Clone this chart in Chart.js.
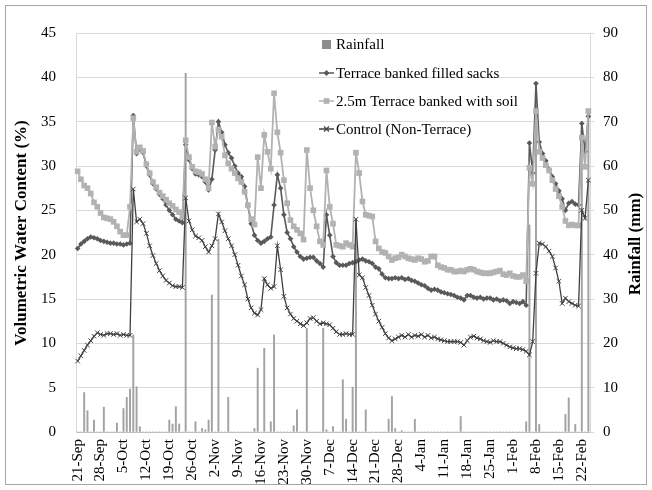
<!DOCTYPE html>
<html><head><meta charset="utf-8">
<script src="https://cdn.jsdelivr.net/npm/chart.js@4.4.1/dist/chart.umd.min.js"></script>
<style>
html,body{margin:0;padding:0;background:#fff;}
#wrap{position:relative;width:652px;height:490px;}
#frame{position:absolute;left:5px;top:5px;width:642px;height:480px;border:1px solid #a6a6a6;box-sizing:border-box;pointer-events:none}
canvas{position:absolute;left:0;top:0}
</style></head>
<body><div id="wrap"><canvas id="c" width="652" height="490"></canvas><div id="frame"></div></div>
<script>
// ---- data (daily, 21-Sep to 24-Feb) ----
const startDay = 21, startMonth = 8; // 21-Sep
const dayCount = 157;
const monthNames = ['Jan','Feb','Mar','Apr','May','Jun','Jul','Aug','Sep','Oct','Nov','Dec'];
const categories = [];
(function(){ const d = new Date(2013, startMonth, startDay);
  for (let i = 0; i < dayCount; i++) { categories.push(d.getDate() + '-' + monthNames[d.getMonth()]); d.setDate(d.getDate() + 1); } })();
const tickEvery = 7; // a label each week: 21-Sep, 28-Sep, ... 22-Feb

const rainfall = [
 0,0,8.9,4.8,0,2.7,0,0,5.6,0,
 0,0,2.0,0,5.3,7.8,9.7,21.9,10.2,1.2,
 0,0,0,0,0,0,0,0,2.7,1.8,
 5.7,1.8,0,80.9,0,0,2.3,0,0.8,0.5,
 2.7,30.9,0,43.5,0,0,7.8,0,0,0,
 0,0,0,0,0.8,14.4,0,18.9,0,2.3,
 21.9,0,0,0,0,0,1.4,5.0,0,0,
 23.4,0,0,0,0,23.4,0.5,0,1.2,0,
 0,11.8,2.9,0,10.1,48.0,0,0,5.0,0,
 0,0,0,0,0,2.9,8.0,0.8,0,0.3,
 0,0,0,2.9,0,0,0,0,0,0,
 0,0,0,0,0,0,0,3.5,0,0,
 0,0,0,0,0,0,0,0,0,0,
 0,0,0,0,0,0,0,2.3,46.7,0,
 78.7,1.7,0,0,0,0,0,0,0,4.0,
 7.7,0,1.7,0,69.6,0,72.4
];
const sacks = [
 20.7,21.2,21.5,21.8,22.0,21.9,21.8,21.6,21.5,21.4,
 21.3,21.3,21.2,21.2,21.1,21.2,21.3,35.7,31.4,31.9,
 31.5,30.0,29.0,28.0,27.4,26.8,26.3,25.6,25.0,24.5,
 24.0,23.8,23.6,32.4,30.7,29.7,29.1,29.0,28.8,28.2,
 27.3,28.5,31.8,35.0,33.8,32.4,31.5,30.9,30.0,29.2,
 28.8,27.7,25.5,23.5,22.2,21.6,21.3,21.5,21.8,22.0,
 25.6,29.0,27.5,24.5,22.5,21.8,20.9,20.3,19.8,19.5,
 19.6,19.7,19.7,19.3,19.0,18.6,24.5,22.2,19.8,19.1,
 18.8,18.8,18.8,19.0,19.1,19.2,19.4,19.5,19.3,19.2,
 19.0,18.6,18.4,17.8,17.4,17.3,17.3,17.4,17.3,17.4,
 17.2,17.3,17.1,17.0,16.8,16.6,16.5,16.2,16.0,16.1,
 16.0,15.8,15.7,15.6,15.5,15.4,15.2,15.1,14.9,15.4,
 15.4,15.2,15.1,15.2,15.0,15.1,15.1,14.9,15.0,14.8,
 14.9,14.8,14.5,14.7,14.6,14.5,14.7,14.3,32.6,29.2,
 39.3,32.7,31.4,30.6,29.6,28.8,28.0,27.2,26.3,25.0,
 25.8,26.0,25.7,25.6,34.8,31.6,35.6
];
const soil = [
 29.4,28.5,27.8,27.5,26.9,25.9,25.4,24.7,24.2,24.1,
 24.0,23.7,23.2,22.6,22.2,22.2,25.4,35.4,31.6,32.1,
 31.7,30.2,29.2,28.2,27.6,27.0,26.6,26.2,25.8,25.5,
 25.1,24.8,24.3,32.9,31.0,29.9,29.4,29.3,29.1,28.5,
 27.5,34.9,32.2,34.1,33.3,31.2,30.3,29.7,29.2,28.6,
 28.2,27.1,25.6,24.0,23.4,31.0,27.5,33.5,31.6,29.7,
 38.2,33.8,31.5,28.4,25.8,23.9,23.2,22.8,22.4,21.7,
 31.8,27.5,25.0,23.2,21.5,21.1,29.5,25.4,23.5,21.1,
 21.0,20.9,21.3,21.1,20.9,31.5,29.2,26.0,24.5,24.4,
 24.3,21.5,20.7,20.3,20.2,19.8,19.4,19.6,19.7,20.0,
 19.8,19.6,19.5,19.4,19.6,19.5,19.2,19.3,19.8,19.8,
 18.8,18.6,18.5,18.3,18.3,18.1,18.1,18.2,18.1,18.3,
 18.4,18.3,18.1,18.0,17.9,17.9,17.9,18.0,18.1,18.2,
 17.8,17.7,17.9,17.6,17.5,17.5,17.7,17.0,29.8,28.0,
 36.2,31.6,30.9,30.1,29.5,28.4,27.4,26.6,25.4,23.8,
 23.3,23.4,23.3,23.3,33.2,29.9,36.2
];
const control = [
 8.0,8.6,9.2,9.8,10.3,10.8,11.2,11.0,10.9,11.1,
 11.1,11.0,11.1,10.9,11.0,10.9,10.9,27.4,23.7,24.0,
 23.5,22.4,21.0,19.9,19.0,18.2,17.6,17.1,16.8,16.5,
 16.4,16.4,16.3,26.4,23.8,22.8,22.1,21.9,21.6,20.9,
 20.3,21.0,21.8,24.6,23.7,22.7,21.8,21.0,20.0,18.8,
 17.6,16.6,15.0,14.0,13.4,13.2,13.8,17.3,16.6,16.2,
 16.4,21.0,18.3,15.3,14.0,13.3,12.8,12.5,12.2,12.0,
 12.3,12.8,12.9,12.5,12.2,12.3,12.2,12.1,11.7,11.3,
 11.0,11.0,11.1,11.0,11.0,24.0,17.7,17.4,16.3,15.4,
 14.3,13.3,12.5,11.8,11.1,10.6,10.3,10.5,10.7,10.9,
 10.7,11.0,10.7,10.9,10.8,11.0,10.7,10.9,10.6,10.7,
 10.5,10.4,10.3,10.2,10.2,10.2,10.2,10.1,9.8,10.3,
 10.7,10.8,10.6,10.5,10.3,10.2,10.1,10.3,10.2,10.2,
 10.0,9.8,9.6,9.5,9.4,9.4,9.3,9.1,8.7,10.2,
 17.9,21.3,21.2,20.9,20.4,19.8,18.5,17.0,14.5,15.1,
 14.7,14.5,14.3,14.2,25.0,24.1,28.4
];
const seriesNames = ['Rainfall','Terrace banked filled sacks','2.5m Terrace banked with soil','Control (Non-Terrace)'];
const leftTicks = {min:0, max:45, step:5};
const rightTicks = {min:0, max:90, step:10};

// ---- styles ----
const FONT = 'Liberation Serif';
const C_RAIN = '#a3a3a3', C_SACK = '#595959', C_SOIL = '#b2b2b2', C_CTRL = '#404040';

function drawMarker(ctx, style, x, y, r, color) {
  ctx.save(); ctx.fillStyle = color; ctx.strokeStyle = color; ctx.lineWidth = 1.2;
  ctx.beginPath();
  if (style === 'rect') { const s = r * Math.SQRT1_2; ctx.rect(x - s, y - s, 2*s, 2*s); ctx.fill(); }
  else if (style === 'rectRot') { ctx.moveTo(x, y - r); ctx.lineTo(x + r, y); ctx.lineTo(x, y + r); ctx.lineTo(x - r, y); ctx.closePath(); ctx.fill(); }
  else if (style === 'crossRot') { const s = r * Math.SQRT1_2; ctx.moveTo(x - s, y - s); ctx.lineTo(x + s, y + s); ctx.moveTo(x + s, y - s); ctx.lineTo(x - s, y + s); ctx.stroke(); }
  ctx.restore();
}

const overlay = {
  id: 'overlay',
  afterDraw(chart) {
    const ctx = chart.ctx;
    ctx.save();
    ctx.fillStyle = '#000';
    ctx.font = 'bold 17px "' + FONT + '"';
    ctx.textAlign = 'center'; ctx.textBaseline = 'middle';
    // left axis title
    ctx.save(); ctx.translate(22, 233); ctx.rotate(-Math.PI/2);
    ctx.fillText('Volumetric Water Content (%)', 0, 0); ctx.restore();
    // right axis title (reads bottom-to-top like the original)
    ctx.save(); ctx.translate(636, 244); ctx.rotate(-Math.PI/2);
    ctx.fillText('Rainfall (mm)', 0, 0); ctx.restore();
    // legend inside the plot
    const lx = 319, lw = 15, tx = 336, ys = [44.5, 73, 101, 129];
    ctx.font = '15px "' + FONT + '"'; ctx.textAlign = 'left';
    ctx.fillStyle = '#8c8c8c'; ctx.fillRect(lx + 3, ys[0] - 4.5, 9, 9);
    const lines = [[C_SACK,'rectRot',3],[C_SOIL,'rect',4],[C_CTRL,'crossRot',3.5]];
    lines.forEach((l, k) => {
      const y = ys[k+1];
      ctx.strokeStyle = l[0]; ctx.lineWidth = 1.5; ctx.beginPath(); ctx.moveTo(lx, y); ctx.lineTo(lx + lw, y); ctx.stroke();
      drawMarker(ctx, l[1], lx + lw/2, y, l[2], l[0]);
    });
    ctx.fillStyle = '#000';
    seriesNames.forEach((n, k) => ctx.fillText(n, tx, ys[k] + 1));
    ctx.restore();
  }
};

new Chart(document.getElementById('c'), {
  type: 'line',
  data: {
    labels: categories,
    datasets: [
      { type:'bar', label: seriesNames[0], data: rainfall, yAxisID:'y2', backgroundColor: C_RAIN, barThickness: 1.3, order: 4 },
      { label: seriesNames[1], data: sacks, yAxisID:'y', borderColor: C_SACK, backgroundColor: C_SACK, borderWidth: 1.6,
        pointStyle:'rectRot', pointRadius: 2.8, pointBorderWidth: 0, pointBackgroundColor: C_SACK, tension: 0, order: 3 },
      { label: seriesNames[2], data: soil, yAxisID:'y', borderColor: C_SOIL, backgroundColor: C_SOIL, borderWidth: 1.8,
        pointStyle:'rect', pointRadius: 4, pointBorderWidth: 0, pointBackgroundColor: C_SOIL, tension: 0, order: 2 },
      { label: seriesNames[3], data: control, yAxisID:'y', borderColor: C_CTRL, backgroundColor: C_CTRL, borderWidth: 1.3,
        pointStyle:'crossRot', pointRadius: 3.2, pointBorderWidth: 1, pointBorderColor: C_CTRL, tension: 0, order: 1 }
    ]
  },
  options: {
    responsive: false, animation: false, devicePixelRatio: 1,
    layout: { padding: { top: 33, left: 0, right: 0, bottom: 0 } },
    plugins: { legend: { display: false }, tooltip: { enabled: false } },
    scales: {
      x: {
        type: 'category', offset: true,
        grid: { display: false, drawTicks: false },
        border: { display: true, color: '#bfbfbf', width: 1 },
        ticks: { autoSkip: false, maxRotation: 90, minRotation: 90, padding: 7, color: '#000',
          font: { family: FONT, size: 15 },
          callback: (v, i) => (i % tickEvery === 0 ? categories[i] : '') },
        afterFit: s => { s.height = 58; }
      },
      y: {
        position: 'left', min: leftTicks.min, max: leftTicks.max,
        ticks: { stepSize: leftTicks.step, padding: 20, color: '#000', font: { family: FONT, size: 15 } },
        grid: { color: '#d9d9d9', drawTicks: false, lineWidth: 1 },
        border: { display: true, color: '#d9d9d9' },
        afterFit: s => { s.width = 76; }
      },
      y2: {
        position: 'right', min: rightTicks.min, max: rightTicks.max,
        ticks: { stepSize: rightTicks.step, padding: 9, color: '#000', font: { family: FONT, size: 15 } },
        grid: { drawOnChartArea: false, drawTicks: true, tickLength: 4, color: '#d9d9d9' },
        border: { display: true, color: '#d9d9d9' },
        afterFit: s => { s.width = 62; }
      }
    }
  },
  plugins: [overlay]
});
</script>
</body></html>
